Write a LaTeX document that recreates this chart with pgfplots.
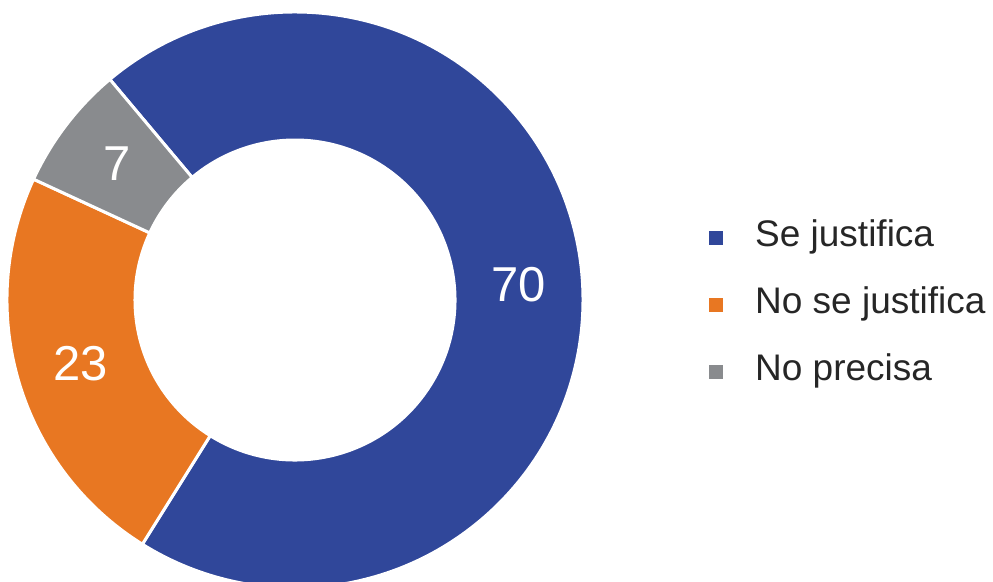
\documentclass[border=0pt]{standalone}
\usepackage{fontspec}
\setmainfont{Liberation Sans}
\usepackage{pgfplots}
\pgfplotsset{compat=1.18}
\definecolor{sblue}{RGB}{48,71,154}
\definecolor{sorange}{RGB}{232,119,34}
\definecolor{sgray}{RGB}{137,139,142}
\definecolor{txt}{RGB}{38,38,38}
% ring segment: start angle, value (percent), colour
\newcommand\seg[3]{%
  \fill[#3, draw=white, line width=3pt]
    (axis cs:295,281) ++({#1}:288pt) arc[start angle={#1}, delta angle={-3.6*#2}, radius=288pt]
    -- ($(axis cs:295,281)+({#1-3.6*#2}:160pt)$) arc[start angle={#1-3.6*#2}, delta angle={3.6*#2}, radius=160pt]
    -- cycle;
}
\newcommand\seglabel[2]{%
  \node[white, font=\fontsize{49}{49}\selectfont, inner sep=0pt]
    at ($(axis cs:295,281)+({#1-1.8*#2}:224pt)$) {#2};
}
\usetikzlibrary{calc}
\begin{document}
\begin{tikzpicture}
\begin{axis}[
  x=1pt, y=1pt,
  xmin=0, xmax=993, ymin=0, ymax=581,
  hide axis, clip=true,
]
  % values: Se justifica 70, No se justifica 23, No precisa 7
  \seg{130}{70}{sblue}
  \seg{130-252}{23}{sorange}
  \seg{130-252-82.8}{7}{sgray}
  \seglabel{130}{70}
  \seglabel{130-252}{23}
  \seglabel{130-252-82.8}{7}
  % legend
  \fill[sblue]   (axis cs:709,336) rectangle (axis cs:723,350);
  \fill[sorange] (axis cs:709,269) rectangle (axis cs:723,283);
  \fill[sgray]   (axis cs:709,202) rectangle (axis cs:723,216);
  \node[anchor=base west, txt, font=\fontsize{37}{37}\selectfont, inner sep=0pt] at (axis cs:755,334) {Se justifica};
  \node[anchor=base west, txt, font=\fontsize{37}{37}\selectfont, inner sep=0pt] at (axis cs:755,267) {No se justifica};
  \node[anchor=base west, txt, font=\fontsize{37}{37}\selectfont, inner sep=0pt] at (axis cs:755,200) {No precisa};
\end{axis}
\path[use as bounding box] (0,0) rectangle (993pt,581pt);
\end{tikzpicture}
\end{document}
